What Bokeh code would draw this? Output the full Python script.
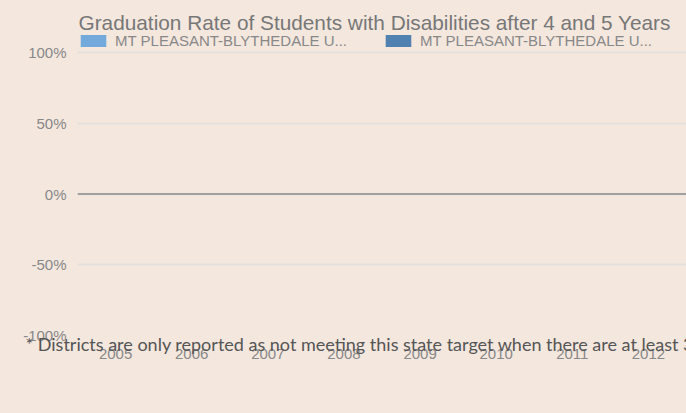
import numpy as np
from bokeh.plotting import figure
from bokeh.models import (ColumnDataSource, FixedTicker, PrintfTickFormatter, Span,
                          Label, Legend, LegendItem, GlobalInlineStyleSheet, Title)
from bokeh.transform import dodge
from bokeh.embed import file_html
from bokeh.resources import INLINE

years = ["2005", "2006", "2007", "2008", "2009", "2010", "2011", "2012"]
# No values are drawn in the reference chart (no data reported)
rate_4yr = [np.nan] * len(years)
rate_5yr = [np.nan] * len(years)
series_names = ["MT PLEASANT-BLYTHEDALE U...", "MT PLEASANT-BLYTHEDALE U..."]
y_ticks = [-100, -50, 0, 50, 100]
title_text = "Graduation Rate of Students with Disabilities after 4 and 5 Years"
footnote_text = ("* Districts are only reported as not meeting this state target "
                 "when there are at least 30 students in the group.")

BG = "#F4E7DE"
W, H = 686, 413
FRAME_BOTTOM = 335          # screen y of -100%
PX_PER_UNIT = (335 - 52) / 200.0
Y_TOP = 100 + 52 / PX_PER_UNIT   # extend frame to top of canvas

src = ColumnDataSource(dict(year=years, r4=rate_4yr, r5=rate_5yr))

p = figure(x_range=years, y_range=(-100, Y_TOP), width=W, height=H,
           output_backend="svg", toolbar_location=None,
           min_border_left=77, min_border_right=0, min_border_top=0,
           min_border_bottom=H - FRAME_BOTTOM)
p.stylesheets = [GlobalInlineStyleSheet(css=f"html,body{{margin:0;padding:0;background:{BG};overflow:hidden;}}")]
p.background_fill_color = BG
p.border_fill_color = BG
p.outline_line_color = None

r1 = p.vbar(x=dodge("year", -0.2, range=p.x_range), top="r4", width=0.38, source=src,
            fill_color="#74AADB", line_color=None)
r2 = p.vbar(x=dodge("year", 0.2, range=p.x_range), top="r5", width=0.38, source=src,
            fill_color="#5081B1", line_color=None)

p.xgrid.grid_line_color = None
p.ygrid.ticker = FixedTicker(ticks=y_ticks)
p.ygrid.grid_line_color = "#E2DFDC"
p.ygrid.grid_line_width = 2

p.yaxis.ticker = FixedTicker(ticks=y_ticks)
p.yaxis.formatter = PrintfTickFormatter(format="%d%%")
for ax in (p.xaxis[0], p.yaxis[0]):
    ax.axis_line_color = None
    ax.major_tick_line_color = None
    ax.minor_tick_line_color = None
    ax.major_label_text_font = "Liberation Sans"
    ax.major_label_text_font_size = "15px"
    ax.major_label_text_color = "#888888"
p.yaxis.major_label_standoff = 5
p.xaxis.major_label_standoff = 7

p.add_layout(Span(location=0, dimension="width", line_color="#A0A0A0", line_width=2))

legend = Legend(items=[LegendItem(label=series_names[0], renderers=[r1]),
                       LegendItem(label=series_names[1], renderers=[r2])],
                orientation="horizontal", location=(0, FRAME_BOTTOM - 49),
                glyph_width=32, glyph_height=15, label_standoff=6, spacing=35,
                padding=0, margin=0, border_line_color=None,
                background_fill_alpha=0, label_text_font="Liberation Sans",
                label_text_font_size="15px", label_text_color="#888888",
                label_height=15)
p.add_layout(legend, "center")

# Label screen coordinates are relative to the frame's bottom-left corner
p.add_layout(Label(x=78 - 77, y=FRAME_BOTTOM - 22, x_units="screen", y_units="screen",
                   text=title_text, text_font="Liberation Sans", text_font_size="20.8px",
                   text_color="#777777", text_baseline="alphabetic"))

foot = Title(text=footnote_text, align="left", vertical_align="top",
             offset=25 - 77, standoff=-58,
             text_font="Lato", text_font_size="18px", text_font_style="normal",
             text_color="#555555")
p.add_layout(foot, "below")

open("out.html", "w").write(file_html(p, INLINE))
